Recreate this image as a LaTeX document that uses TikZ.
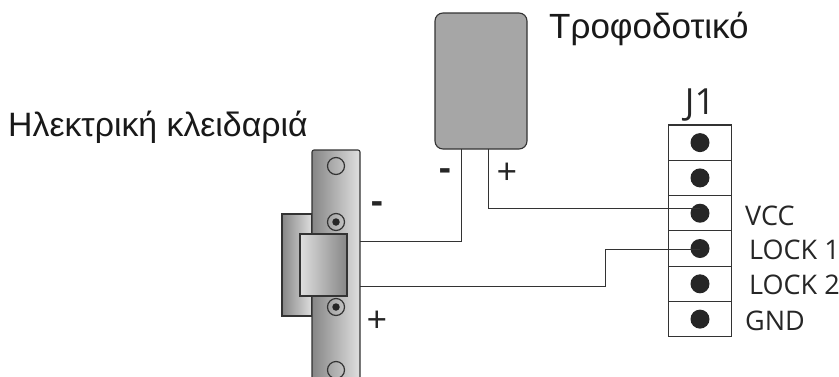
\documentclass[tikz,border=0pt]{standalone}
\usepackage{fontspec}
\setmainfont{Liberation Sans}
\newfontfamily\pinfont{Open Sans}
\usetikzlibrary{arrows,positioning}
\definecolor{psugray}{HTML}{A6A6A6}
\definecolor{edgegray}{HTML}{333333}
\tikzset{
  wire/.style={draw=edgegray, line width=1pt},
  metal/.style={draw=edgegray, line width=1.1pt, inner sep=0pt, rectangle, left color=#1},
  screw/.style={circle, draw=edgegray, line width=1.2pt, minimum size=17pt, inner sep=0pt},
  pincell/.style={rectangle, draw=edgegray, line width=1.1pt, fill=white, minimum width=63pt, minimum height=35.3pt, inner sep=0pt},
  pindot/.style={circle, fill=black!85, minimum size=19pt, inner sep=0pt},
  pinlabel/.style={font=\pinfont\fontsize{27}{29}\selectfont, text=black!85, anchor=west, inner sep=0pt},
  minuslabel/.style={font=\pinfont\bfseries\fontsize{36}{36}\selectfont, text=black!85, inner sep=0pt},
  pluslabel/.style={font=\pinfont\fontsize{36}{36}\selectfont, text=black!85, inner sep=0pt}
}
\begin{document}
\begin{tikzpicture}[x=1pt, y=-1pt, >=latex]
\clip (0,0) rectangle (839,376);
\fill[white] (0,0) rectangle (839,376);
% power supply
\node (psu) [rectangle, draw=edgegray, line width=1.1pt, fill=psugray, rounded corners=8pt, minimum width=92pt, minimum height=136pt, inner sep=0pt] at (481,81) {};
\node (psutext) [anchor=west, inner sep=0pt, font=\fontsize{35}{37}\selectfont, text=black!90] at (549,29) {Τροφοδοτικό};
% lock
\node (backbox) [metal=gray!95, right color=gray!25, minimum width=30pt, minimum height=102pt] at (297,265) {};
\node (plate) [metal=gray!95, right color=gray!25, rounded corners=2pt, minimum width=48pt, minimum height=236pt] at (336,268) {};
\node (strike) [metal=gray!25, right color=gray!95, minimum width=47pt, minimum height=62pt] at (323.5,265) {};
\node (locktext) [anchor=west, inner sep=0pt, font=\fontsize{33.8}{36}\selectfont, text=black!90] at (8,127) {Ηλεκτρική κλειδαριά};
\node (screwa) [screw] at (336,166) {};
\node (screwb) [screw] at (336,222) {};
\node (screwc) [screw] at (336,307) {};
\node (screwd) [screw] at (336,370) {};
\node (holeb) [circle, fill=black!85, minimum size=7.5pt, inner sep=0pt] at (screwb) {};
\node (holec) [circle, fill=black!85, minimum size=7.5pt, inner sep=0pt] at (screwc) {};
% connector
\node (titlej) [font=\pinfont\fontsize{36}{36}\selectfont, text=black!85, inner sep=0pt] at (700,105) {J1};
\foreach \name/\ypos in {one/142.6, two/177.9, three/213.2, four/248.5, five/283.8, six/319.1} {
  \node (cell\name) [pincell] at (700,\ypos) {};
  \node (pin\name) [pindot] at (cell\name) {};
}
\node (vcc) [pinlabel] at (745,216) {VCC};
\node (lockone) [pinlabel] at (749,250) {LOCK 1};
\node (locktwo) [pinlabel] at (749,285) {LOCK 2};
\node (gnd) [pinlabel] at (745,321) {GND};
% wires
\coordinate (minusout) at (461,149);
\coordinate (plusout) at (488,149);
\coordinate (plateup) at (360,241);
\coordinate (platelow) at (360,286);
\coordinate (vccin) at (700,208);
\coordinate (lockin) at (700,249.5);
\draw[wire] (minusout) |- (plateup);
\draw[wire] (plusout) |- (vccin);
\draw[wire] (platelow) -- (605,286) |- (lockin);
% signs
\node (psuminus) [minuslabel] at (445,175) {-};
\node (psuplus) [pluslabel] at (507,174) {+};
\node (lockminus) [minuslabel] at (377,208) {-};
\node (lockplus) [pluslabel] at (377,322) {+};
\end{tikzpicture}
\end{document}
